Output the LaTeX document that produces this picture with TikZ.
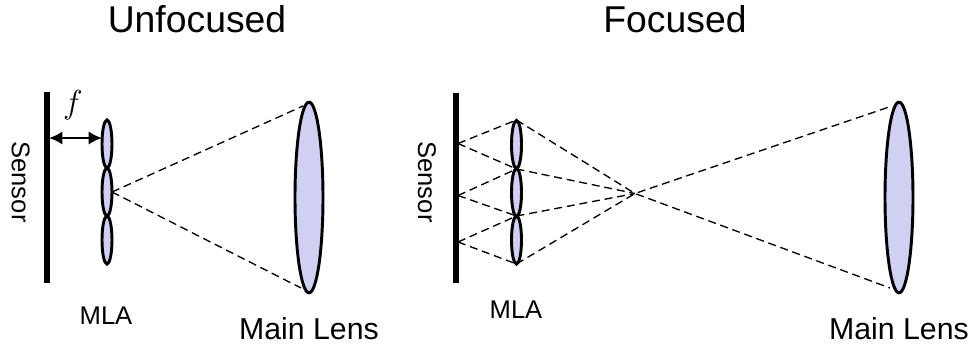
\documentclass[tikz,border=0pt]{standalone}
\usepackage{fontspec}
\setmainfont{Liberation Sans}
\usepackage{tikz}
\usetikzlibrary{arrows.meta,shapes.geometric}
\definecolor{lensblue}{RGB}{207,208,242}

\begin{document}
\begin{tikzpicture}[x=0.75pt, y=-0.75pt,
        lens/.style={draw, line width=2.2pt, fill=lensblue, ellipse, inner sep=0pt, outer sep=0pt},
        mlens/.style={lens, minimum width=7.5pt, minimum height=36pt},
        mainlens/.style={lens, minimum width=21pt, minimum height=143pt},
        sensorbar/.style={line width=3.9pt},
        ray/.style={dash pattern=on 6pt off 3.6pt, line width=1pt},
        dim/.style={{Latex[length=10pt,width=10pt]}-{Latex[length=10pt,width=10pt]}, line width=1.7pt},
        heading/.style={anchor=base, font=\fontsize{28}{30}\selectfont},
        lenslabel/.style={anchor=base, font=\fontsize{22.7}{26}\selectfont},
        mlalabel/.style={anchor=base, font=\fontsize{19.2}{22}\selectfont},
        sensorlabel/.style={anchor=base, rotate=-90, font=\fontsize{19.2}{22}\selectfont}
      ]
      \useasboundingbox (0,0) rectangle (971,348);
      \fill[white] (0,0) rectangle (971,348);

      % left
      \node[heading] (titleA) at (197,33) {Unfocused};
      \coordinate (senAtop) at (47,92);
      \coordinate (senAbot) at (47,283);
      \draw[sensorbar] (senAtop) -- (senAbot);
      \node[mlens] (mlaA1) at (107,144) {};
      \node[mlens] (mlaA2) at (107,192) {};
      \node[mlens] (mlaA3) at (107,240) {};
      \node[mainlens] (mainA) at (309,197.5) {};
      \coordinate (senAf) at (49,138);
      \coordinate (mlaAf) at (102,138);
      \coordinate (mainAtop) at (303,106);
      \coordinate (mainAbot) at (301,288);
      \draw[dim] (senAf) -- (mlaAf);
      \draw[ray] (mlaA2.east) -- (mainAtop);
      \draw[ray] (mlaA2.east) -- (mainAbot);
      \node[font=\fontsize{30}{32}\selectfont] (fA) at (73,105) {$f$};
      \node[sensorlabel] (senAlab) at (12,182) {Sensor};
      \node[mlalabel] (mlaAlab) at (106,325) {MLA};
      \node[lenslabel] (mainAlab) at (309,340) {Main Lens};

      % right
      \node[heading] (titleB) at (675,33) {Focused};
      \coordinate (senBtop) at (456,93);
      \coordinate (senBbot) at (456,283);
      \draw[sensorbar] (senBtop) -- (senBbot);
      \node[mlens] (mlaB1) at (516.5,144.5) {};
      \node[mlens] (mlaB2) at (516.5,192.5) {};
      \node[mlens] (mlaB3) at (516.5,240) {};
      \node[mainlens] (mainB) at (899,197.5) {};
      \coordinate (senB1) at (458,143.5);
      \coordinate (senB2) at (458,195.5);
      \coordinate (senB3) at (458,242);
      \coordinate (tip1) at (516.5,120);
      \coordinate (tip2) at (516.5,169);
      \coordinate (tip3) at (516.5,216);
      \coordinate (tip4) at (516.5,264);
      \coordinate (cross) at (635,193.5);
      \coordinate (mainBtop) at (892,106);
      \coordinate (mainBbot) at (890,288);
      \foreach \s/\t in {senB1/tip1, senB1/tip2, senB2/tip2, senB2/tip3, senB3/tip3, senB3/tip4, tip2/cross, tip3/cross}
        \draw[ray] (\s) -- (\t);
      \draw[ray] (tip1) -- (cross) -- (mainBbot);
      \draw[ray] (tip4) -- (cross) -- (mainBtop);
      \node[sensorlabel] (senBlab) at (418,182) {Sensor};
      \node[mlalabel] (mlaBlab) at (516,319) {MLA};
      \node[lenslabel] (mainBlab) at (899,340) {Main Lens};
    \end{tikzpicture}
\end{document}
